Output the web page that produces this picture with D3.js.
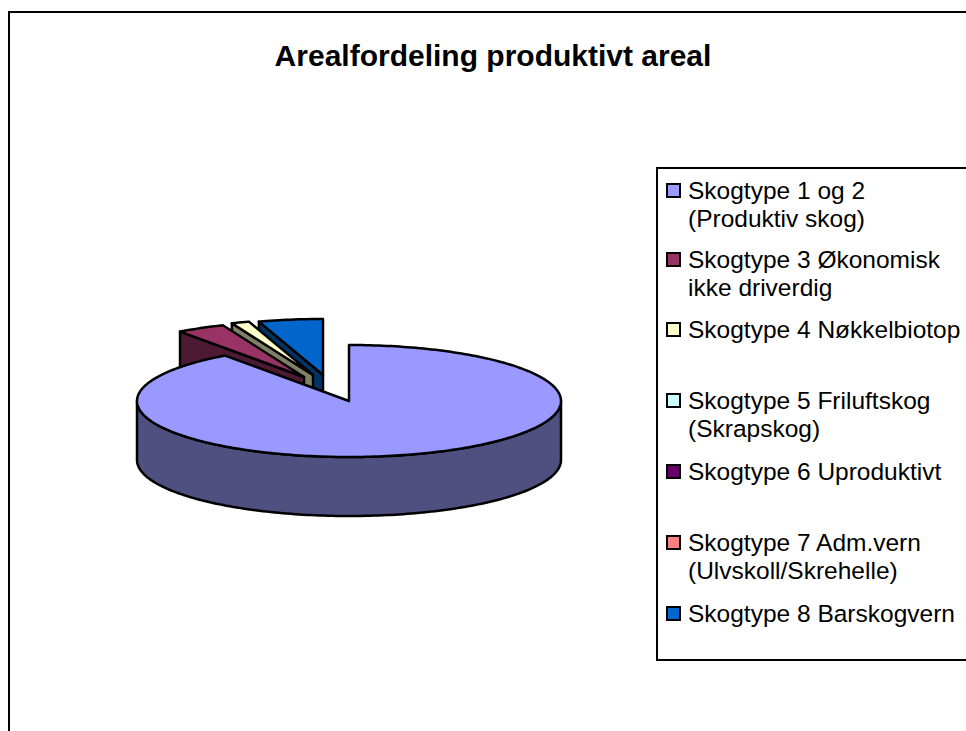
<!DOCTYPE html>
<html>
<head>
<meta charset="utf-8">
<style>
  body { margin: 0; background: #fff; }
  text { font-family: "Liberation Sans", Arial, sans-serif; fill: #000; }
</style>
<script src="https://cdn.jsdelivr.net/npm/d3@7"></script>
</head>
<body>
<div id="chart"></div>
<script>
const titleText = 'Arealfordeling produktivt areal';
const categories = [
  ['Skogtype 1 og 2', '(Produktiv skog)'],
  ['Skogtype 3 Økonomisk', 'ikke driverdig'],
  ['Skogtype 4 Nøkkelbiotop'],
  ['Skogtype 5 Friluftskog', '(Skrapskog)'],
  ['Skogtype 6 Uproduktivt'],
  ['Skogtype 7 Adm.vern', '(Ulvskoll/Skrehelle)'],
  ['Skogtype 8 Barskogvern'],
];
const shares = [90.06, 3.69, 1.36, 0, 0, 0, 4.89];
const topColors = ['#9999ff', '#993366', '#ffffcc', '#ccffff', '#660066', '#ff8080', '#0066cc'];
const wallColors = ['#4f4f80', '#4d1a33', '#808066', '#668080', '#330033', '#804040', '#003366'];
// how far each slice is pulled out of the pie, in screen pixels
const pullX = [0, -45, -36, 0, 0, 0, -26];
const pullY = [0, -24, -26, 0, 0, 0, -26];

const width = 966;
const height = 731;
const pie = { cx: 349, cy: 401, rx: 212, ry: 56, depth: 59 };
const legendRowY = [199, 268, 338, 409, 480, 551, 622];

const svg = d3.select('#chart').append('svg')
  .attr('width', width)
  .attr('height', height)
  .style('display', 'block');

// chart frame runs off the right and bottom of the picture
svg.append('path')
  .attr('d', `M9,${height}V12H${width}`)
  .attr('fill', 'none')
  .attr('stroke', '#000')
  .attr('stroke-width', 2);

svg.append('text')
  .attr('x', 493)
  .attr('y', 66)
  .attr('text-anchor', 'middle')
  .style('font-size', '30px')
  .style('font-weight', 'bold')
  .text(titleText);

const arcs = d3.pie().sort(null).value((d) => d)(shares)
  .map((d, i) => ({ ...d, i }))
  .filter((d) => d.value > 0);

const line = d3.line();

function project(d, angle, drop = 0) {
  return [
    pie.cx + pullX[d.i] + pie.rx * Math.sin(angle),
    pie.cy + pullY[d.i] - pie.ry * Math.cos(angle) + drop,
  ];
}

function rim(d, a0, a1, drop = 0) {
  const steps = Math.max(2, Math.ceil(Math.abs(a1 - a0) / 0.02));
  return d3.range(steps + 1).map((k) => project(d, a0 + (a1 - a0) * k / steps, drop));
}

function centre(d, drop = 0) {
  return [pie.cx + pullX[d.i], pie.cy + pullY[d.i] + drop];
}

const stroke = (sel) => sel
  .attr('stroke', '#000')
  .attr('stroke-width', 2.5)
  .attr('stroke-linejoin', 'round');

// back slices first, so later ones lie on top: blue, yellow, maroon, then the big one
const drawOrder = arcs.slice().sort((a, b) => b.i - a.i).filter((d) => d.i > 0)
  .concat(arcs.filter((d) => d.i === 0));

const sliceG = svg.append('g')
  .selectAll('g')
  .data(drawOrder)
  .join('g');

sliceG.each(function drawSlice(d) {
  const g = d3.select(this);
  const wallColor = wallColors[d.i];

  if (d.i === 0) {
    // outer wall, only the front half of the rim shows
    const front0 = Math.PI / 2;
    const front1 = Math.PI * 1.5;
    const pts = rim(d, front0, front1).concat(rim(d, front1, front0, pie.depth));
    g.append('path').attr('d', line(pts) + 'Z').attr('fill', wallColor).call(stroke);
  } else {
    // cut face on the left side of a pulled-out slice
    const corner = project(d, d.startAngle);
    const pts = [corner, centre(d), centre(d, pie.depth), project(d, d.startAngle, pie.depth)];
    g.append('path').attr('d', line(pts) + 'Z').attr('fill', wallColor).call(stroke);
  }

  const top = [centre(d)].concat(rim(d, d.startAngle, d.endAngle));
  g.append('path').attr('d', line(top) + 'Z').attr('fill', topColors[d.i]).call(stroke);
});

const legend = svg.append('g');

legend.append('path')
  .attr('d', `M${width},168H657V660H${width}`)
  .attr('fill', '#fff')
  .attr('stroke', '#000')
  .attr('stroke-width', 2);

const rows = legend.selectAll('g.row')
  .data(categories)
  .join('g')
  .attr('class', 'row')
  .attr('transform', (d, i) => `translate(0,${legendRowY[i]})`);

rows.append('rect')
  .attr('x', 667)
  .attr('y', -15)
  .attr('width', 13)
  .attr('height', 13)
  .attr('fill', (d, i) => topColors[i])
  .attr('stroke', '#000')
  .attr('stroke-width', 2);

rows.selectAll('text')
  .data((d) => d)
  .join('text')
  .attr('x', 688)
  .attr('y', (d, i) => i * 28)
  .style('font-size', '24.5px')
  .text((d) => d);
</script>
</body>
</html>
